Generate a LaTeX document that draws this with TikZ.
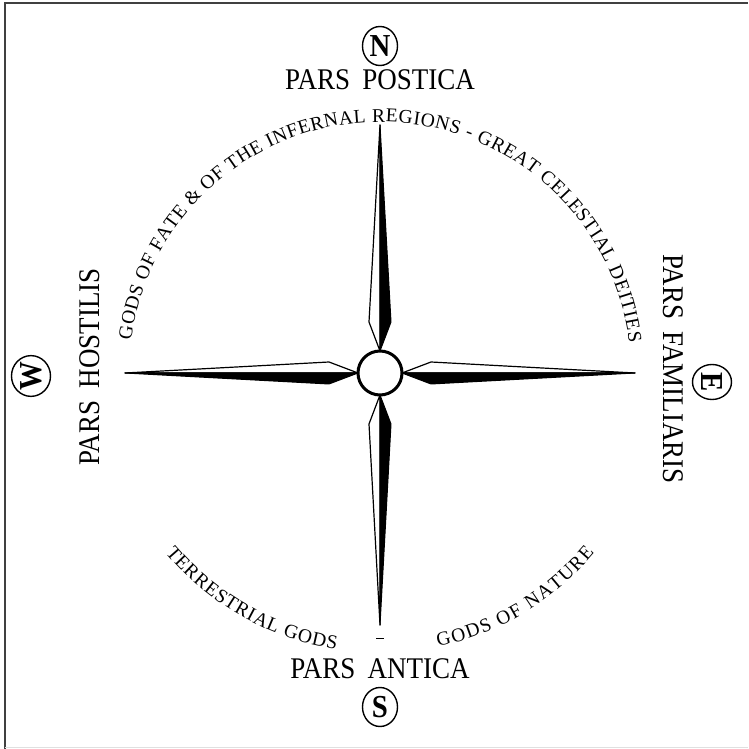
\documentclass[tikz,border=0pt]{standalone}
\usepackage{fontspec}
\setmainfont{Liberation Serif}
\usepackage{graphicx}
\usetikzlibrary{positioning, shapes.geometric, decorations.text}

\newcommand{\narrowtext}[1]{\scalebox{0.9}[1]{#1}}
\newcommand{\arcfont}{\rmfamily\fontsize{19.5}{19.5}\selectfont}

\begin{document}
\begin{tikzpicture}[x=1pt, y=1pt,
    hub/.style={draw, circle, line width=3pt, minimum size=44pt, inner sep=0pt, fill=white},
    pars/.style={font=\fontsize{30}{30}\selectfont, inner sep=0pt, anchor=base},
    point/.style={draw, ellipse, line width=1.4pt, minimum width=35pt, minimum height=39pt,
        inner sep=0pt, font=\bfseries\fontsize{32}{32}\selectfont},
    arctext/.style={font=\arcfont, decorate, decoration={text along path,
        text align=fit to path, text={#1}}}]
  \useasboundingbox (-380,-376) rectangle (368,373);
  % frame
  \draw[black!75, line width=1.5pt] (-375,-376) -- (-375,370) -- (368,370);
  \draw[black!12, line width=1pt] (-375,-374) -- (368,-374);

  % needles
  \foreach \ang/\len/\s in {90/248/1, 270/252/-1, 180/255/-1, 0/255/1} {
    \begin{scope}[rotate=\ang, yscale=\s]
      \filldraw[fill=white, line width=1.2pt, line join=round] (22,0) -- (51,11) -- (\len,0) -- cycle;
      \filldraw[fill=black, line width=1pt, line join=round] (22,0) -- (51,-11) -- (\len,0) -- cycle;
    \end{scope}
  }
  \node[hub] (hub) at (0,0) {};

  \node[pars] (postica) at (0,283) {\narrowtext{PARS\hspace{0.45em}POSTICA}};
  \node[pars] (antica) at (0,-305) {\narrowtext{PARS\hspace{0.45em}ANTICA}};
  \node[pars, rotate=90] (hostilis) at (-280,6) {\narrowtext{PARS\hspace{0.45em}HOSTILIS}};
  \node[pars, rotate=-90] (familiaris) at (283,4) {\narrowtext{PARS\hspace{0.45em}FAMILIARIS}};

  \node[point] (north) at (0,327) {\narrowtext{N}};
  \node[point] (south) at (0,-334) {\narrowtext{S}};
  \node[point, rotate=90] (west) at (-349,-3) {\narrowtext{W}};
  \node[point, rotate=-90] (east) at (332,-9) {\narrowtext{E}};

  % the gods round the circle
  \path[arctext={|\arcfont|GODS OF FATE {\&} OF THE INFERNAL REGIONS - GREAT CELESTIAL DEITIES}]
    (hub.center) ++(172.5:251) arc[start angle=172.5, end angle=7, radius=251];
  \path[arctext={|\arcfont|TERRESTRIAL GODS}]
    (hub.center) ++(220:280) arc[start angle=220, end angle=261, radius=280];
  \path[arctext={|\arcfont|GODS OF NATURE}]
    (hub.center) ++(282:280) arc[start angle=282, end angle=320, radius=280];
  \draw[line width=1pt] (-4,-265) -- (4,-265);
\end{tikzpicture}
\end{document}
